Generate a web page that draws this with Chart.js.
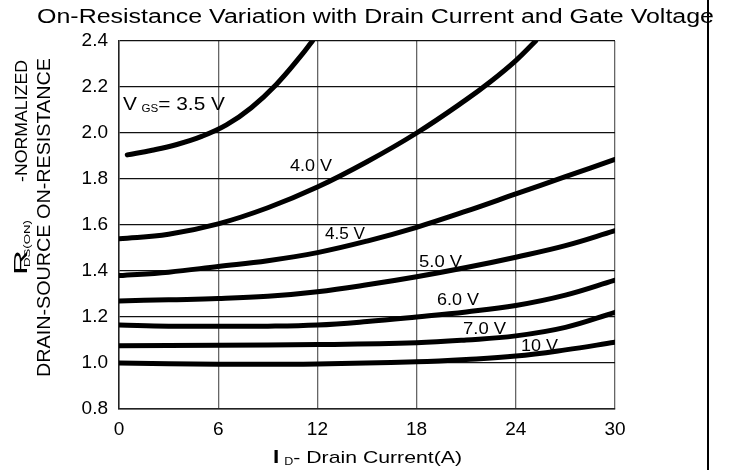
<!DOCTYPE html>
<html>
<head>
<meta charset="utf-8">
<script src="https://cdn.jsdelivr.net/npm/chart.js@4"></script>
<style>
  html, body { margin: 0; padding: 0; background: #fff; }
  #wrap { width: 731px; height: 470px; }
</style>
</head>
<body>
<div id="wrap"><canvas id="chartCanvas" width="731" height="470"></canvas></div>
<script>
// drain current (A) and normalized on-resistance
const x35 = [0.5, 2, 3.5, 5, 6.5, 8, 9.5, 11, 11.7];
const y35 = [1.905, 1.925, 1.95, 1.985, 2.035, 2.11, 2.21, 2.335, 2.40];
const x40 = [0, 3, 6, 9, 12, 15, 18, 21, 22.5, 24, 25.2];
const y40 = [1.54, 1.56, 1.605, 1.675, 1.765, 1.875, 2.00, 2.145, 2.225, 2.315, 2.40];
const x45 = [0, 3, 6, 9, 12, 15, 18, 21, 24, 27, 30];
const y45 = [1.38, 1.395, 1.42, 1.445, 1.48, 1.53, 1.59, 1.66, 1.735, 1.81, 1.885];
const x50 = [0, 3, 6, 9, 12, 15, 18, 21, 24, 27, 30];
const y50 = [1.27, 1.275, 1.28, 1.29, 1.31, 1.34, 1.375, 1.415, 1.46, 1.51, 1.575];
const x60 = [0, 3, 6, 9, 12, 15, 18, 21, 24, 27, 30];
const y60 = [1.165, 1.16, 1.16, 1.16, 1.165, 1.18, 1.20, 1.222, 1.25, 1.295, 1.36];
const x70 = [0, 6, 12, 18, 21, 24, 27, 30];
const y70 = [1.075, 1.077, 1.08, 1.088, 1.10, 1.118, 1.155, 1.22];
const x10 = [0, 6, 12, 18, 21, 24, 27, 30];
const y10 = [1.00, 0.995, 0.996, 1.005, 1.015, 1.03, 1.057, 1.09];

const xTicks = [0, 6, 12, 18, 24, 30];
const curveLabels = ['4.0 V', '4.5 V', '5.0 V', '6.0 V', '7.0 V', '10 V'];
const labelAt = [[10.34, 1.835], [12.46, 1.539], [18.15, 1.417], [19.24, 1.252], [20.81, 1.126], [24.32, 1.052]];
const labelWidth = [42, 40, 43, 42, 43, 37];

const FONT = '"Liberation Sans", Arial, sans-serif';

function pts(xs, ys) {
  return xs.map((x, i) => ({ x: x, y: ys[i] }));
}

function series(xs, ys) {
  return {
    data: pts(xs, ys),
    borderColor: '#000',
    borderWidth: 5,
    pointRadius: 0,
    tension: 0.4,
    borderCapStyle: 'round',
    fill: false
  };
}

// draws text pieces in a row, squeezed or stretched to a given width
function fitRun(ctx, parts, x, y, width) {
  let total = 0;
  parts.forEach(p => { ctx.font = p.font; total += ctx.measureText(p.text).width + (p.dx || 0); });
  ctx.save();
  ctx.translate(x, y);
  ctx.scale(width / total, 1);
  let cx = 0;
  parts.forEach(p => {
    ctx.font = p.font;
    cx += (p.dx || 0);
    ctx.fillText(p.text, cx, p.dy || 0);
    cx += ctx.measureText(p.text).width;
  });
  ctx.restore();
}

const textPlugin = {
  id: 'texts',
  afterDraw(chart) {
    const ctx = chart.ctx;
    const xs = chart.scales.x, ys = chart.scales.y;
    ctx.save();
    ctx.fillStyle = '#000';
    ctx.textBaseline = 'alphabetic';
    ctx.textAlign = 'left';

    // title
    fitRun(ctx, [{ text: 'On-Resistance Variation with Drain Current and Gate Voltage', font: '20px ' + FONT }], 37, 23, 677);

    // x axis title
    fitRun(ctx, [
      { text: 'I', font: 'bold 18px ' + FONT },
      { text: 'D', font: '10px ' + FONT, dy: 2, dx: 4 },
      { text: '- Drain Current(A)', font: '17px ' + FONT }
    ], 273, 463, 189);

    // y axis title, rotated
    ctx.save();
    ctx.translate(27, 275);
    ctx.rotate(-Math.PI / 2);
    fitRun(ctx, [{ text: 'R', font: '18px ' + FONT }], 0, 0, 25);
    fitRun(ctx, [{ text: 'DS(ON)', font: '9px ' + FONT }], 8, 3, 47);
    fitRun(ctx, [{ text: '-NORMALIZED', font: '17px ' + FONT }], 93, 0, 122);
    ctx.restore();
    ctx.save();
    ctx.translate(50, 377);
    ctx.rotate(-Math.PI / 2);
    fitRun(ctx, [{ text: 'DRAIN-SOURCE ON-RESISTANCE', font: '18px ' + FONT }], 0, 0, 319);
    ctx.restore();

    // gate voltage labels
    fitRun(ctx, [
      { text: 'V', font: '18px ' + FONT },
      { text: 'GS', font: '10px ' + FONT, dy: 2, dx: 4 },
      { text: '= 3.5 V', font: '18px ' + FONT }
    ], xs.getPixelForValue(0.24), ys.getPixelForValue(2.10), 102);
    curveLabels.forEach((t, i) => {
      fitRun(ctx, [{ text: t, font: '16px ' + FONT }],
        xs.getPixelForValue(labelAt[i][0]), ys.getPixelForValue(labelAt[i][1]), labelWidth[i]);
    });

    // page edge line on the right
    ctx.fillRect(707, 0, 2, 470);
    ctx.restore();
  }
};

new Chart(document.getElementById('chartCanvas'), {
  type: 'line',
  data: {
    datasets: [
      series(x35, y35), series(x40, y40), series(x45, y45), series(x50, y50),
      series(x60, y60), series(x70, y70), series(x10, y10)
    ]
  },
  options: {
    responsive: false,
    animation: false,
    layout: { padding: { top: 41, right: 116, left: 0, bottom: 0 } },
    plugins: { legend: { display: false }, tooltip: { enabled: false } },
    scales: {
      x: {
        type: 'linear',
        min: 0, max: 30,
        afterBuildTicks: s => { s.ticks = xTicks.map(v => ({ value: v })); },
        afterFit: s => { s.height = 61; },
        grid: { color: '#666', lineWidth: 1.3, drawTicks: false },
        border: { color: '#222', width: 1.5 },
        ticks: { color: '#000', font: { family: FONT, size: 19 }, padding: 9, maxRotation: 0 }
      },
      y: {
        min: 0.8, max: 2.4,
        ticks: {
          stepSize: 0.2, color: '#000', padding: 11,
          font: { family: FONT, size: 19 },
          callback: v => v.toFixed(1)
        },
        afterFit: s => { s.width = 119; },
        grid: { color: '#111', lineWidth: 1.2, drawTicks: false },
        border: { color: '#222', width: 1.5 }
      }
    }
  },
  plugins: [textPlugin]
});
</script>
</body>
</html>
